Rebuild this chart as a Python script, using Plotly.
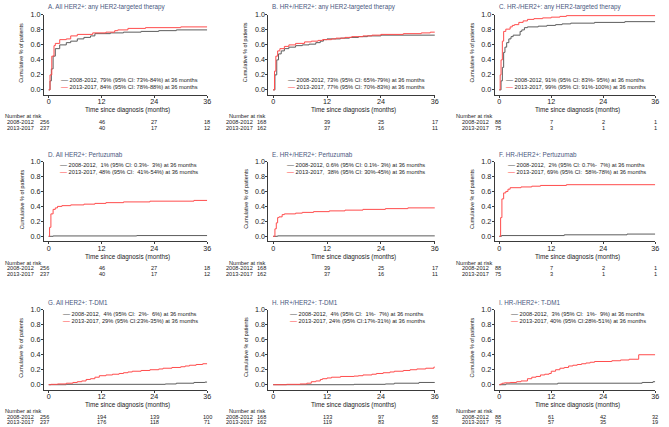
import plotly.graph_objects as go

FONT = "Liberation Sans, Arial, sans-serif"
GRAY = "#5c5c5c"
RED = "#ff4c4c"
TITLE_COLOR = "#4a5880"
AXIS_COLOR = "#3a3a3a"

# ---- data ----------------------------------------------------------------
titles = [
    "A. All HER2+: any HER2-targeted therapy",
    "B. HR+/HER2+: any HER2-targeted therapy",
    "C. HR-/HER2+: any HER2-targeted therapy",
    "D. All HER2+: Pertuzumab",
    "E. HR+/HER2+: Pertuzumab",
    "F. HR-/HER2+: Pertuzumab",
    "G. All HER2+: T-DM1",
    "H. HR+/HER2+: T-DM1",
    "I. HR-/HER2+: T-DM1",
]

x_ticks = [0, 12, 24, 36]
y_ticks = [0.0, 0.2, 0.4, 0.6, 0.8, 1.0]

# (months, cumulative proportion) – 2008-2012 / 2013-2017
a_early = [(0, 0), (0.3, 0.12), (0.6, 0.28), (1.0, 0.45), (1.5, 0.55), (2.5, 0.60), (4, 0.63), (5, 0.65),
           (6.5, 0.68), (8, 0.70), (9.5, 0.72), (10.5, 0.75), (14, 0.76), (17, 0.77), (21, 0.78),
           (25, 0.79), (29, 0.80), (36, 0.80)]
a_late = [(0, 0), (0.3, 0.2), (0.7, 0.45), (1.2, 0.59), (1.5, 0.62), (2.5, 0.67), (4, 0.68), (5, 0.72),
          (6.5, 0.74), (10, 0.76), (13, 0.77), (15, 0.79), (15.7, 0.80), (18, 0.82), (22, 0.83),
          (30, 0.84), (36, 0.84)]
b_early = [(0, 0), (0.4, 0.2), (0.8, 0.40), (1.2, 0.48), (1.8, 0.52), (2.5, 0.55), (3.5, 0.57), (5, 0.59),
           (6.5, 0.60), (8, 0.61), (9.5, 0.63), (10.5, 0.65), (11.2, 0.67), (12, 0.68), (15, 0.69),
           (17, 0.70), (19, 0.71), (21, 0.72), (24, 0.73), (36, 0.73)]
b_late = [(0, 0), (0.3, 0.25), (0.6, 0.45), (1.0, 0.52), (1.5, 0.55), (2.5, 0.58), (3.5, 0.60), (5, 0.62),
          (7, 0.64), (8.5, 0.65), (10, 0.66), (11, 0.67), (13, 0.68), (14, 0.69), (16, 0.70),
          (17.5, 0.71), (20, 0.72), (22, 0.73), (24, 0.74), (29, 0.75), (33, 0.76), (35, 0.77), (36, 0.77)]
c_early = [(0, 0), (0.4, 0.12), (0.7, 0.30), (1.0, 0.50), (1.3, 0.57), (1.7, 0.63), (2.2, 0.68),
           (2.7, 0.71), (3.2, 0.73), (4.8, 0.78), (5.2, 0.80), (5.8, 0.83), (6.5, 0.84), (9, 0.85),
           (11, 0.86), (13, 0.87), (14.5, 0.88), (16.5, 0.89), (22, 0.90), (29, 0.91), (36, 0.91)]
c_late = [(0, 0), (0.2, 0.2), (0.4, 0.40), (0.7, 0.65), (1.0, 0.78), (1.5, 0.81), (2.5, 0.84), (3, 0.86),
          (3.5, 0.87), (4.5, 0.90), (5.5, 0.92), (6.5, 0.94), (8, 0.95), (10, 0.96), (12, 0.97),
          (14, 0.98), (15.5, 0.99), (36, 0.99)]
d_early = [(0, 0), (1, 0.005), (20, 0.01), (36, 0.01)]
d_late = [(0, 0), (0.2, 0.12), (0.5, 0.30), (1.0, 0.36), (1.5, 0.38), (2, 0.40), (3, 0.41), (5, 0.42),
          (8, 0.43), (10.5, 0.44), (13, 0.45), (17, 0.46), (23, 0.47), (33, 0.48), (36, 0.48)]
e_early = [(0, 0), (1, 0.006), (36, 0.006)]
e_late = [(0, 0), (0.4, 0.10), (0.7, 0.18), (1.0, 0.25), (1.3, 0.26), (2, 0.29), (2.5, 0.30), (5, 0.31),
          (6.5, 0.32), (9, 0.33), (12.5, 0.34), (16, 0.35), (20, 0.36), (25, 0.37), (30, 0.38), (36, 0.38)]
f_early = [(0, 0), (0.5, 0.01), (15, 0.02), (29.5, 0.03), (36, 0.03)]
f_late = [(0, 0), (0.3, 0.25), (0.6, 0.50), (1.0, 0.58), (1.5, 0.60), (2, 0.63), (2.5, 0.65), (5, 0.66),
          (7.5, 0.67), (9.5, 0.68), (15.5, 0.69), (36, 0.69)]
g_early = [(0, 0), (4, 0.005), (26.5, 0.01), (29, 0.02), (33, 0.03), (35.5, 0.035), (36, 0.035)]
g_late = [(0, 0), (0.5, 0.005), (2, 0.01), (4, 0.02), (5.5, 0.03), (6.5, 0.04), (7.5, 0.05), (8.5, 0.07),
          (9.5, 0.08), (10.5, 0.10), (11.5, 0.12), (13, 0.13), (14.5, 0.14), (16, 0.15), (17, 0.16),
          (18, 0.17), (19, 0.18), (21, 0.19), (23, 0.20), (25, 0.21), (26, 0.22), (28, 0.23),
          (30, 0.24), (31, 0.25), (32, 0.26), (33.5, 0.27), (35, 0.28), (36, 0.28)]
h_early = [(0, 0), (18, 0.005), (25, 0.01), (27, 0.02), (32.5, 0.03), (36, 0.03)]
h_late = [(0, 0), (3, 0.005), (6, 0.01), (7.5, 0.02), (8.5, 0.04), (9.5, 0.05), (10.5, 0.07), (11, 0.08),
          (12, 0.09), (13, 0.10), (15, 0.11), (18, 0.115), (19, 0.12), (20, 0.13), (22, 0.14),
          (23, 0.15), (24.5, 0.16), (26, 0.17), (27, 0.18), (29, 0.19), (30.5, 0.20), (32, 0.21),
          (34, 0.22), (35.8, 0.235), (36, 0.235)]
i_early = [(0, 0), (1.5, 0.01), (13.5, 0.02), (33, 0.03), (35.5, 0.04), (36, 0.04)]
i_late = [(0, 0), (0.3, 0.01), (0.7, 0.02), (1.2, 0.025), (2.5, 0.03), (4, 0.04), (5, 0.05), (6.5, 0.08),
          (7.5, 0.10), (8.5, 0.11), (9.5, 0.13), (10.5, 0.14), (11.5, 0.15), (12, 0.18), (13, 0.20),
          (14, 0.22), (15, 0.23), (16, 0.25), (17, 0.26), (18, 0.27), (19, 0.28), (20, 0.29),
          (21, 0.30), (22, 0.31), (26, 0.32), (28, 0.33), (30, 0.34), (32.2, 0.40), (36, 0.40)]

NB = "\u00a0"
legend_early = [
    "2008-2012, 79% (95% CI: 73%-84%) at 36 months",
    "2008-2012, 73% (95% CI: 65%-79%) at 36 months",
    f"2008-2012, 91% (95% CI: 83%-{NB}95%) at 36 months",
    f"2008-2012,{NB}{NB}1% (95% CI: 0.3%-{NB}{NB}3%) at 36 months",
    f"2008-2012, 0.6% (95% CI: 0.1%-{NB}3%) at 36 months",
    f"2008-2012,{NB}{NB}2% (95% CI: 0.7%-{NB}{NB}7%) at 36 months",
    f"2008-2012,{NB}{NB}4% (95% CI:{NB}{NB}2%-{NB}{NB}6%) at 36 months",
    f"2008-2012,{NB}{NB}4% (95% CI:{NB}{NB}1%-{NB}{NB}7%) at 36 months",
    f"2008-2012,{NB}{NB}3% (95% CI:{NB}{NB}1%-{NB}{NB}9%) at 36 months",
]
legend_late = [
    "2013-2017, 84% (95% CI: 78%-88%) at 36 months",
    "2013-2017, 77% (95% CI: 70%-83%) at 36 months",
    "2013-2017, 99% (95% CI: 91%-100%) at 36 months",
    f"2013-2017, 48% (95% CI:{NB}{NB}41%-54%) at 36 months",
    f"2013-2017,{NB}{NB}38% (95% CI: 30%-45%) at 36 months",
    f"2013-2017, 69% (95% CI:{NB}{NB}58%-78%) at 36 months",
    "2013-2017, 29% (95% CI:23%-35%) at 36 months",
    "2013-2017, 24% (95% CI:17%-31%) at 36 months",
    "2013-2017, 40% (95% CI:28%-51%) at 36 months",
]

risk_early = [
    [256, 46, 27, 18], [168, 39, 25, 17], [88, 7, 2, 1],
    [256, 46, 27, 18], [168, 39, 25, 17], [88, 7, 2, 1],
    [256, 194, 139, 100], [168, 133, 97, 68], [88, 61, 42, 32],
]
risk_late = [
    [237, 40, 17, 12], [162, 37, 16, 11], [75, 3, 1, 1],
    [237, 40, 17, 12], [162, 37, 16, 11], [75, 3, 1, 1],
    [237, 176, 118, 71], [162, 119, 83, 52], [75, 57, 35, 19],
]

early_curves = [a_early, b_early, c_early, d_early, e_early, f_early, g_early, h_early, i_early]
late_curves = [a_late, b_late, c_late, d_late, e_late, f_late, g_late, h_late, i_late]

# ---- layout geometry (pixels of the 669x427 canvas) ----------------------
W, H = 669, 427
col_px = [(44.3, 208.6), (270.0, 437.6), (497.7, 659.3)]
row_px = [(11.0, 91.7), (159.0, 239.5), (308.7, 389.3)]
nar_label_shift = [-8.5, -13, -3.5]   # right edge of row labels vs axis line
first_num_shift = [6.5, 0, 8.3]        # right edge of first risk column vs axis line

fig = go.Figure()
annotations = []
layout_axes = {}

for i in range(9):
    r, c = divmod(i, 3)
    n = "" if i == 0 else str(i + 1)
    xa, ya = "x" + n, "y" + n

    for curve, color in ((early_curves[i], GRAY), (late_curves[i], RED)):
        fig.add_trace(go.Scatter(
            x=[p[0] for p in curve], y=[p[1] for p in curve],
            mode="lines", line=dict(color=color, width=1, shape="hv"),
            xaxis=xa, yaxis=ya, showlegend=False, hoverinfo="skip",
        ))

    x0, x1 = col_px[c]
    y0, y1 = row_px[r]
    layout_axes["xaxis" + n] = dict(
        domain=[x0 / W, x1 / W], anchor=ya, range=[-1.06, 36.05],
        tickvals=x_ticks, ticks="outside", ticklen=2, tickwidth=1, tickcolor=AXIS_COLOR,
        ticklabelstandoff=-2,
        showline=True, linecolor=AXIS_COLOR, linewidth=1, showgrid=False, zeroline=False,
        tickfont=dict(size=7.2, color="#222"),
    )
    layout_axes["yaxis" + n] = dict(
        domain=[1 - y1 / H, 1 - y0 / H], anchor=xa, range=[-0.066, 1.0],
        tickvals=y_ticks, tickformat=".1f", ticks="outside", ticklen=2, tickwidth=1,
        ticklabelstandoff=-1,
        tickcolor=AXIS_COLOR, showline=True, linecolor=AXIS_COLOR, linewidth=1,
        showgrid=False, zeroline=False, tickfont=dict(size=7.2, color="#222"),
    )

    xd, yd = xa + " domain", ya + " domain"
    # panel title
    annotations.append(dict(text=titles[i], xref=xd, yref=yd, x=0, y=1, xanchor="left",
                            yanchor="middle", xshift=2, yshift=7.5, showarrow=False,
                            font=dict(size=6.3, color=TITLE_COLOR)))
    # axis titles
    annotations.append(dict(text="Cumulative % of patients", xref=xd, yref=ya, x=0, y=0.5,
                            xshift=-27.6, textangle=-90, showarrow=False,
                            font=dict(size=5.4, color="#222")))
    annotations.append(dict(text="Time since diagnosis (months)", xref=xa, yref=yd, x=18, y=0,
                            yanchor="middle", yshift=-15.3, showarrow=False,
                            font=dict(size=6.3, color="#222")))
    # legend
    leg = (f"<span style='color:{GRAY};font-size:7px'>\u2014</span> {legend_early[i]}<br>"
           f"<span style='color:{RED};font-size:7px'>\u2014</span> {legend_late[i]}")
    if r == 0:
        leg_y, leg_shift = 0, 11.8
    else:
        leg_y, leg_shift = 1, -6.8
    annotations.append(dict(text=leg, xref=xa, yref=yd, x=36, y=leg_y, xanchor="right",
                            yanchor="middle", xshift=-7.5, yshift=leg_shift, align="left",
                            showarrow=False, font=dict(size=5.7, color="#222")))
    # number at risk table
    annotations.append(dict(text="Number at risk", xref=xd, yref=yd, x=0, y=0, xanchor="left",
                            yanchor="middle", xshift=-41, yshift=-21.5, showarrow=False,
                            font=dict(size=5.6, color="#222")))
    for label, counts, ys in (("2008-2012", risk_early[i], -27.0), ("2013-2017", risk_late[i], -32.7)):
        annotations.append(dict(text=label, xref=xd, yref=yd, x=0, y=0, xanchor="right",
                                yanchor="middle", xshift=nar_label_shift[c], yshift=ys,
                                showarrow=False, font=dict(size=5.6, color="#222")))
        for k, (tv, cnt) in enumerate(zip(x_ticks, counts)):
            if k == 0:
                annotations.append(dict(text=str(cnt), xref=xd, yref=yd, x=0, y=0,
                                        xanchor="right", yanchor="middle",
                                        xshift=first_num_shift[c], yshift=ys, showarrow=False,
                                        font=dict(size=5.6, color="#222")))
            else:
                annotations.append(dict(text=str(cnt), xref=xa, yref=yd, x=tv, y=0,
                                        xanchor="center", yanchor="middle", yshift=ys,
                                        showarrow=False, font=dict(size=5.6, color="#222")))

fig.update_layout(
    width=W, height=H, autosize=False,
    margin=dict(l=0, r=0, t=0, b=0),
    paper_bgcolor="white", plot_bgcolor="white",
    font=dict(family=FONT, color="#222"),
    annotations=annotations,
    **layout_axes,
)

# the page's default body margin would push the fixed-size figure off the window
fig.write_html("out.html", config={"displayModeBar": False},
               post_script="document.body.style.margin = '0';")
